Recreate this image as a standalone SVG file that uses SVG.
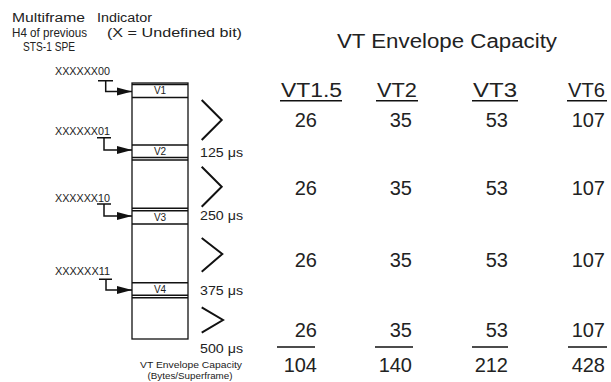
<svg xmlns="http://www.w3.org/2000/svg" width="611" height="382" viewBox="0 0 611 382">
<defs>
<style>
text{font-family:"Liberation Sans",Arial,Helvetica,sans-serif;fill:#222}
.hdr{font-size:12px}
.lbl{font-size:10px}
.row{font-size:10px}
.tm{font-size:12.5px}
.cap{font-size:9px}
.num{font-size:20px;text-anchor:end}
.col{font-size:20px}
.box{fill:none;stroke:#111;stroke-width:1.3}
.ln{stroke:#111;stroke-width:1.5;fill:none}
.chev{fill:none;stroke:#111;stroke-width:2}
.conn{fill:none;stroke:#111;stroke-width:1.5}
</style>
<marker id="ah" markerUnits="userSpaceOnUse" markerWidth="16" markerHeight="10" refX="15" refY="5" orient="auto">
<path d="M0,1 L15,5 L0,9 Z" fill="#111"/>
</marker>
</defs>
<rect width="611" height="382" fill="#fff"/>

<g id="header">
<text class="hdr" x="12" y="22" textLength="73" lengthAdjust="spacingAndGlyphs">Multiframe</text>
<text class="hdr" x="97" y="22" textLength="55" lengthAdjust="spacingAndGlyphs">Indicator</text>
<text class="hdr" x="12" y="37" textLength="75" lengthAdjust="spacingAndGlyphs">H4 of previous</text>
<text class="hdr" x="107" y="37" textLength="135" lengthAdjust="spacingAndGlyphs">(X = Undefined bit)</text>
<text class="hdr" x="23" y="51" textLength="52" lengthAdjust="spacingAndGlyphs">STS-1 SPE</text>
</g>

<g id="spe-frame">
<rect class="box" x="132" y="83" width="56" height="256"/>
<line class="ln" x1="132" y1="84.5" x2="188" y2="84.5"/>
<line class="ln" x1="132" y1="97.5" x2="188" y2="97.5"/>
<line class="ln" x1="132" y1="145" x2="188" y2="145"/>
<line class="ln" x1="132" y1="157.5" x2="188" y2="157.5"/>
<line class="ln" x1="132" y1="160" x2="188" y2="160"/>
<line class="ln" x1="132" y1="208.3" x2="188" y2="208.3"/>
<line class="ln" x1="132" y1="210.8" x2="188" y2="210.8"/>
<line class="ln" x1="132" y1="224" x2="188" y2="224"/>
<line class="ln" x1="132" y1="282.7" x2="188" y2="282.7"/>
<line class="ln" x1="132" y1="295.3" x2="188" y2="295.3"/>
<line class="ln" x1="132" y1="297.8" x2="188" y2="297.8"/>
</g>

<g id="row-v1"><text class="row" x="160" y="94" text-anchor="middle">V1</text></g>
<g id="row-v2"><text class="row" x="160" y="155" text-anchor="middle">V2</text></g>
<g id="row-v3"><text class="row" x="160" y="221" text-anchor="middle">V3</text></g>
<g id="row-v4"><text class="row" x="160" y="293" text-anchor="middle">V4</text></g>

<g id="h4-labels">
<text class="lbl" x="55" y="75" textLength="55" lengthAdjust="spacingAndGlyphs">XXXXXX00</text>
<text class="lbl" x="55" y="135" textLength="55" lengthAdjust="spacingAndGlyphs">XXXXXX01</text>
<text class="lbl" x="55" y="202" textLength="55" lengthAdjust="spacingAndGlyphs">XXXXXX10</text>
<text class="lbl" x="55" y="275" textLength="55" lengthAdjust="spacingAndGlyphs">XXXXXX11</text>
</g>

<g id="connectors">
<path class="conn" d="M98,80.7 H113 M105.7,80.7 V91.5 H132" marker-end="url(#ah)"/>
<path class="conn" d="M97,137.7 H111 M104,137.7 V150 H132" marker-end="url(#ah)"/>
<path class="conn" d="M97,204 H111 M104,204 V216 H132" marker-end="url(#ah)"/>
<path class="conn" d="M99,279.3 H112 M106,279.3 V290 H132" marker-end="url(#ah)"/>
</g>

<g id="timing">
<polyline class="chev" points="201.7,100 221.7,120 201.7,140"/>
<polyline class="chev" points="201.7,166.7 221.7,186.7 201.7,206.7"/>
<polyline class="chev" points="201.7,238 222.3,254 201.7,271.7"/>
<polyline class="chev" points="201.7,307.3 223,320 201.7,332.7"/>
<text class="tm" x="200" y="157" textLength="43" lengthAdjust="spacingAndGlyphs">125 μs</text>
<text class="tm" x="200" y="220" textLength="43" lengthAdjust="spacingAndGlyphs">250 μs</text>
<text class="tm" x="200" y="295" textLength="43" lengthAdjust="spacingAndGlyphs">375 μs</text>
<text class="tm" x="200" y="353" textLength="43" lengthAdjust="spacingAndGlyphs">500 μs</text>
<text class="cap" x="191" y="368" text-anchor="middle" textLength="102" lengthAdjust="spacingAndGlyphs">VT Envelope Capacity</text>
<text class="cap" x="190" y="379" text-anchor="middle" textLength="85" lengthAdjust="spacingAndGlyphs">(Bytes/Superframe)</text>
</g>

<g id="table">
<text x="337" y="48" font-size="20" textLength="220" lengthAdjust="spacingAndGlyphs">VT Envelope Capacity</text>
<text class="col" x="281" y="97" textLength="61" lengthAdjust="spacingAndGlyphs">VT1.5</text>
<text class="col" x="377" y="97" textLength="40" lengthAdjust="spacingAndGlyphs">VT2</text>
<text class="col" x="473" y="97" textLength="44" lengthAdjust="spacingAndGlyphs">VT3</text>
<text class="col" x="568" y="97" textLength="37" lengthAdjust="spacingAndGlyphs">VT6</text>
<line class="ln" x1="280" y1="100.7" x2="342" y2="100.7"/>
<line class="ln" x1="376" y1="100.7" x2="418" y2="100.7"/>
<line class="ln" x1="472" y1="100.7" x2="518" y2="100.7"/>
<line class="ln" x1="567" y1="100.7" x2="607" y2="100.7"/>

<text class="num" x="317" y="127">26</text>
<text class="num" x="412" y="127">35</text>
<text class="num" x="508" y="127">53</text>
<text class="num" x="605" y="127">107</text>

<text class="num" x="317" y="195">26</text>
<text class="num" x="412" y="195">35</text>
<text class="num" x="508" y="195">53</text>
<text class="num" x="605" y="195">107</text>

<text class="num" x="317" y="267">26</text>
<text class="num" x="412" y="267">35</text>
<text class="num" x="508" y="267">53</text>
<text class="num" x="605" y="267">107</text>

<text class="num" x="317" y="337">26</text>
<text class="num" x="412" y="337">35</text>
<text class="num" x="508" y="337">53</text>
<text class="num" x="605" y="337">107</text>

<line class="ln" x1="277" y1="347" x2="315" y2="347"/>
<line class="ln" x1="375" y1="347" x2="413" y2="347"/>
<line class="ln" x1="472" y1="347" x2="508" y2="347"/>
<line class="ln" x1="568" y1="347" x2="607" y2="347"/>

<text class="num" x="317" y="372">104</text>
<text class="num" x="412" y="372">140</text>
<text class="num" x="508" y="372">212</text>
<text class="num" x="605" y="372">428</text>
</g>
</svg>
